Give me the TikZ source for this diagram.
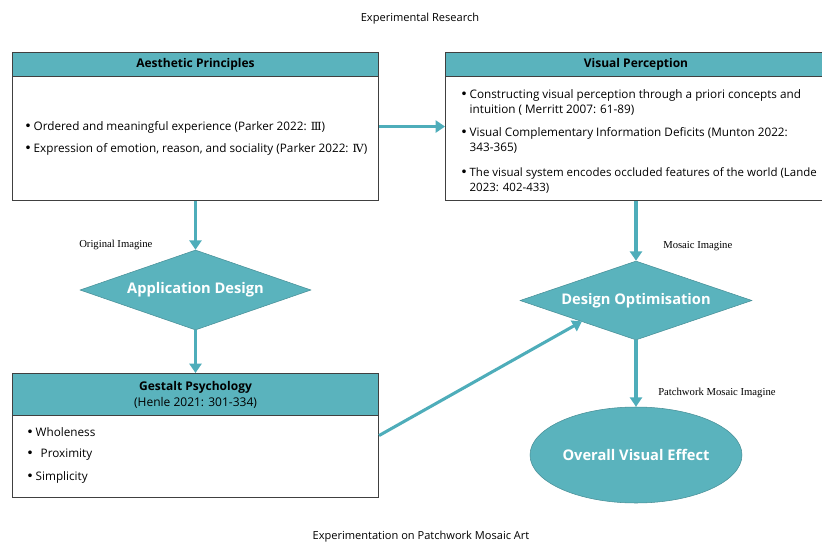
\documentclass[tikz,border=0pt]{standalone}
\usepackage{fontspec}
\setmainfont{Open Sans}
\newfontfamily\labfont{Liberation Serif}
\newfontfamily\dejavu{DejaVu Sans}
\newfontfamily\dejaserif{DejaVu Serif}
\usetikzlibrary{shapes.geometric,arrows.meta}
\definecolor{tealfill}{HTML}{5AB3BD}
\definecolor{arrowc}{HTML}{4EADBA}
\definecolor{boxline}{HTML}{404040}
\newcommand{\bul}{{\dejavu\fontsize{9.5}{12}\selectfont •}\,}
\newcommand{\rom}[1]{{\dejaserif\fontsize{8.4}{12}\selectfont #1}}
\begin{document}
\begin{tikzpicture}[x=0.75pt,y=-0.75pt,
  outerbox/.style={draw=boxline,line width=0.8pt,fill=white,rectangle,anchor=north west,inner sep=0pt},
  headbox/.style={draw=boxline,line width=0.8pt,fill=tealfill,rectangle,anchor=north west,inner sep=0pt,font=\fontsize{9}{12}\selectfont,align=center},
  bullettext/.style={anchor=west,inner sep=0pt,align=left,font=\fontsize{8.8}{11.6}\selectfont},
  decision/.style={diamond,aspect=2.9,fill=tealfill,draw=tealfill!80!black,line width=0.4pt,inner sep=0pt,text=white,font=\fontsize{11}{12}\selectfont\bfseries},
  flow/.style={draw=arrowc,line width=2.3pt,-{Triangle[length=7pt,width=9pt]}},
  lab/.style={font=\labfont\fontsize{8}{10}\selectfont,inner sep=0pt},
  title/.style={font=\fontsize{8.3}{10}\selectfont,inner sep=0pt}
]
\useasboundingbox (0,0) rectangle (822,543);

\node[title] (t1) at (420,19) {Experimental Research};
\node[title] (t2) at (421,537) {Experimentation on Patchwork Mosaic Art};

% Aesthetic Principles
\node[outerbox,minimum width=274.5pt,minimum height=111pt] (ap) at (12,52) {};
\node[headbox,minimum width=274.5pt,minimum height=18pt] (aph) at (12,52) {\bfseries Aesthetic Principles};
\node[bullettext] (ap1) at (24,127) {\bul Ordered and meaningful experience (Parker 2022: \rom{Ⅲ})};
\node[bullettext] (ap2) at (24,149) {\bul Expression of emotion, reason, and sociality (Parker 2022: \rom{Ⅳ})};

% Visual Perception
\node[outerbox,minimum width=295pt,minimum height=111pt] (vp) at (445,52) {};
\node[headbox,minimum width=295pt,minimum height=18pt] (vph) at (445,52) {};
\node[font=\fontsize{9}{12}\selectfont\bfseries,inner sep=0pt] (vpt) at (636,64) {Visual Perception};
\node[bullettext,anchor=north west] (vp1) at (460,89) {\bul Constructing visual perception through a priori concepts and\\\hphantom{\bul}intuition ( Merritt 2007: 61-89)};
\node[bullettext,anchor=north west] (vp2) at (460,127) {\bul Visual Complementary Information Deficits (Munton 2022:\\\hphantom{\bul}343-365)};
\node[bullettext,anchor=north west,font=\fontsize{8.6}{11.6}\selectfont] (vp3) at (460,167) {\bul The visual system encodes occluded features of the world (Lande\\\hphantom{\bul}2023: 402-433)};

% Gestalt Psychology
\node[outerbox,minimum width=274.5pt,minimum height=93pt] (gp) at (12,373) {};
\node[headbox,minimum width=274.5pt,minimum height=31.5pt] (gph) at (12,373) {\bfseries Gestalt Psychology\\(Henle 2021: 301-334)};
\node[bullettext] (gp1) at (26,432) {\bul Wholeness};
\node[bullettext] (gp2) at (26,455) {\bul\, Proximity};
\node[bullettext] (gp3) at (26,477) {\bul Simplicity};

% Decisions
\node[decision,minimum width=173.25pt,minimum height=60pt] (ad) at (195.5,290) {Application Design};
\node[decision,minimum width=174pt,minimum height=59.25pt] (do) at (636,300.5) {Design Optimisation};

% Ellipse
\node[ellipse,fill=tealfill,draw=tealfill!80!black,line width=0.4pt,minimum width=159pt,minimum height=72pt,inner sep=0pt,text=white,font=\fontsize{11}{12}\selectfont\bfseries] (ov) at (636,455) {Overall Visual Effect};

% Labels
\node[lab,anchor=west] (l1) at (79,245) {Original Imagine};
\node[lab,anchor=west] (l2) at (663,246) {Mosaic Imagine};
\node[lab,anchor=west] (l3) at (658,393) {Patchwork Mosaic Imagine};

% Connectors
\draw[flow] (ap.east) -- (vp.west |- ap.east);
\draw[flow] (ap.south -| ad.north) -- (ad.north);
\draw[flow] (ad.south) -- (gp.north -| ad.south);
\draw[flow] (vp.south -| do.north) -- (do.north);
\draw[flow] (do.south) -- (ov.north);
\draw[flow] (gp.east) -- ([shift={(4,1)}]do.south west);
\end{tikzpicture}
\end{document}
